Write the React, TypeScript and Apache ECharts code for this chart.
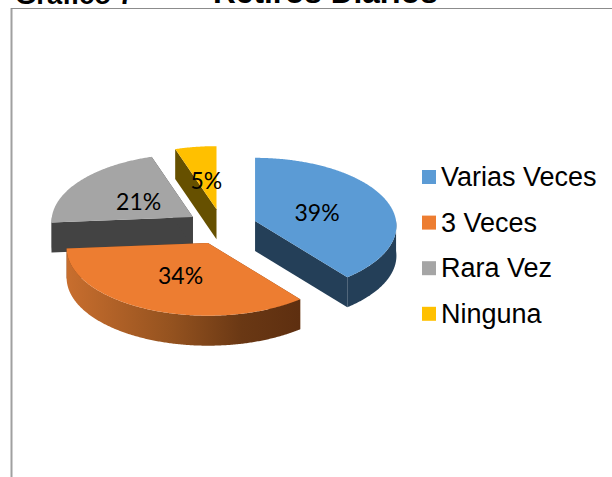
import React, { useEffect, useRef } from "react";
import * as echarts from "echarts";

const categories = ["Varias Veces", "3 Veces", "Rara Vez", "Ninguna"];
const values = [39, 34, 21, 5];
const labels = ["39%", "34%", "21%", "5%"];
const topColors = ["#5B9BD5", "#ED7D31", "#A5A5A5", "#FFC000"];
const sideColors = ["#243F58", "#7A4018", "#434343", "#665000"];
const drawOrder = [3, 2, 0, 1];

const total = values.reduce((a, b) => a + b, 0);
const startAngles = values.map((_, i) => (values.slice(0, i).reduce((a, b) => a + b, 0) / total) * 360);
const endAngles = values.map((v, i) => startAngles[i] + (v / total) * 360);

const CX = 222, CY = 226.8, RX = 141, RY = 67.6, PERSP = 0.07, EX = 35, EY = 17.7, DEPTH = 30;
const rad = (d: number) => (d * Math.PI) / 180;

function project(angle: number, r: number, i: number): [number, number] {
  const mid = (startAngles[i] + endAngles[i]) / 2;
  const ox = CX + EX * Math.sin(rad(mid));
  const oy = CY - EY * Math.cos(rad(mid));
  const u = r * Math.sin(rad(angle));
  const v = -r * Math.cos(rad(angle));
  const s = 1 / (1 - PERSP * v);
  return [ox + RX * u * s, oy + RY * v * s];
}
function arc(a0: number, a1: number, i: number): [number, number][] {
  const pts: [number, number][] = [];
  const n = Math.max(2, Math.ceil((a1 - a0) * 2));
  for (let k = 0; k <= n; k++) pts.push(project(a0 + ((a1 - a0) * k) / n, 1, i));
  return pts;
}
const down = (pts: [number, number][]) => pts.map(([x, y]) => [x, y + DEPTH] as [number, number]);

function sliceSeries(i: number) {
  return {
    type: "custom",
    name: categories[i],
    coordinateSystem: "none",
    silent: true,
    z: 2 + drawOrder.indexOf(i),
    itemStyle: { color: topColors[i] },
    data: [values[i]],
    renderItem: () => {
      const a0 = startAngles[i], a1 = endAngles[i];
      const apex = project(0, 0, i);
      const top = arc(a0, a1, i);
      const children: any[] = [];
      for (const edge of [project(a0, 1, i), project(a1, 1, i)]) {
        const quad = [apex, edge];
        children.push({
          type: "polygon",
          shape: { points: [...quad, ...down(quad).reverse()] },
          style: { fill: sideColors[i] },
        });
      }
      const w0 = Math.max(a0, 90), w1 = Math.min(a1, 270);
      if (w1 > w0) {
        const wall = arc(w0, w1, i);
        const isOrange = i === 1;
        children.push({
          type: "polygon",
          shape: { points: [...wall, ...down(wall).reverse()] },
          style: {
            fill: isOrange
              ? new echarts.graphic.LinearGradient(1, 0, 0, 0, [
                  { offset: 0, color: "#5E2F10" },
                  { offset: 0.25, color: "#6A3814" },
                  { offset: 0.55, color: "#94521F" },
                  { offset: 1, color: "#C86E2E" },
                ])
              : sideColors[i],
          },
        });
      }
      children.push({
        type: "polygon",
        shape: { points: [apex, ...top] },
        style: { fill: topColors[i] },
      });
      const mid = (a0 + a1) / 2;
      const [lx, ly] = project(mid, 0.47, i);
      children.push({
        type: "text",
        style: {
          text: labels[i],
          x: lx,
          y: ly + 1.5,
          align: "center",
          verticalAlign: "middle",
          fontFamily: "Lato",
          fontSize: 23,
          fill: "#000000",
        },
      });
      return { type: "group", children };
    },
  };
}

export default function App() {
  const ref = useRef<HTMLDivElement>(null);
  useEffect(() => {
    const chart = echarts.init(ref.current!, undefined, { renderer: "svg" });
    chart.setOption({
      animation: false,
      backgroundColor: "#ffffff",
      legend: {
        orient: "vertical",
        left: 422,
        top: 162,
        padding: 0,
        itemWidth: 14,
        itemHeight: 14,
        itemGap: 15.6,
        icon: "rect",
        selectedMode: false,
        data: categories,
        textStyle: {
          fontFamily: "Liberation Sans",
          fontSize: 27,
          lineHeight: 30,
          color: "#000000",
          padding: 0,
        },
      },
      graphic: [
        { type: "line", shape: { x1: 11.5, y1: 8, x2: 11.5, y2: 477 }, style: { stroke: "#a0a0a0", lineWidth: 2 } },
        { type: "line", shape: { x1: 11, y1: 8.5, x2: 612, y2: 8.5 }, style: { stroke: "#8c8c8c", lineWidth: 1 } },
        { type: "text", x: 15, y: 8, style: { text: "Gráfico 7", fontFamily: "Liberation Sans", fontSize: 27.4, fontWeight: "bold", fill: "#000", verticalAlign: "bottom" } },
        { type: "text", x: 213, y: 8, style: { text: "Retiros Diarios", fontFamily: "Liberation Sans", fontSize: 31.6, fontWeight: "bold", fill: "#000", verticalAlign: "bottom" } },
      ],
      series: drawOrder.map(sliceSeries),
    });
    return () => chart.dispose();
  }, []);
  return <div ref={ref} style={{ position: "fixed", left: 0, top: 0, width: 612, height: 477 }} />;
}
